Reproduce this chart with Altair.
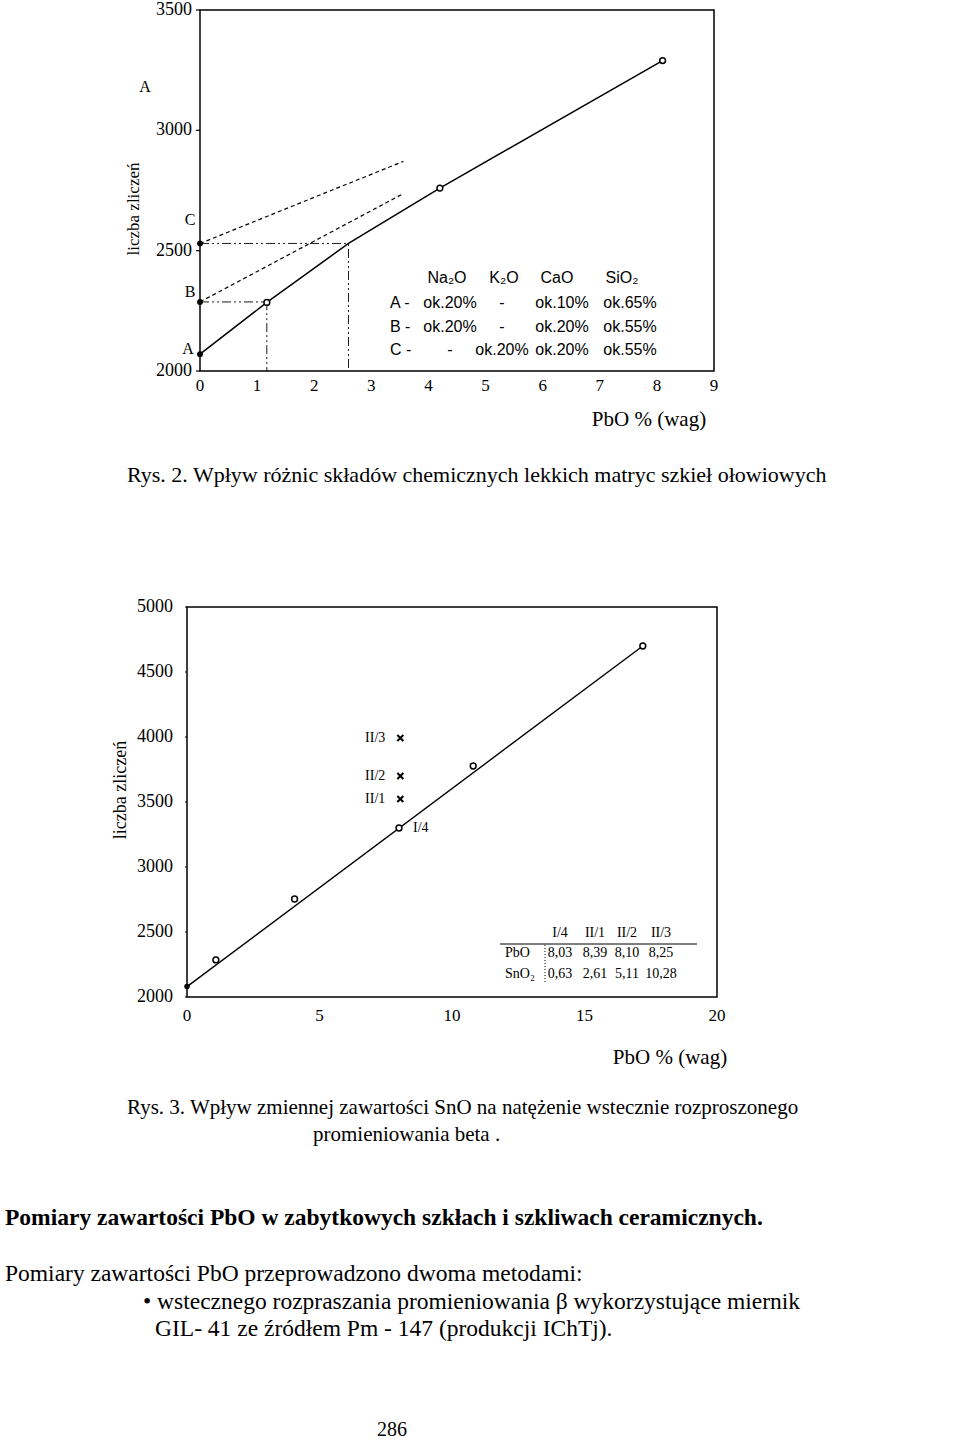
import altair as alt
import pandas as pd

W, H = 960, 1440
SERIF = "Liberation Serif"
SANS = "Liberation Sans"

# ================= Rys. 2 data =================
r2_curve_pbo = [0.0, 1.17, 2.6, 4.2, 8.1]
r2_curve_cnt = [2070, 2285, 2530, 2760, 3290]
r2_open_pbo = [1.17, 4.2, 8.1]
r2_open_cnt = [2285, 2760, 3290]
r2_matrix_names = ["A", "B", "C"]
r2_matrix_cnt = [2070, 2287, 2530]
r2_dash_names = ["B", "C"]
r2_dash_start_cnt = [2287, 2530]
r2_dash_end_pbo = [3.56, 3.56]
r2_dash_end_cnt = [2737, 2871]
r2_proj_pbo = [1.17, 2.6]          # where levels B and C meet the solid curve
r2_xticks = [0, 1, 2, 3, 4, 5, 6, 7, 8, 9]
r2_yticks = [2000, 2500, 3000, 3500]

r2_leg_header = ["Na₂O", "K₂O", "CaO", "SiO₂"]
r2_leg_rows = ["A -", "B -", "C -"]
r2_leg_na2o = ["ok.20%", "ok.20%", "-"]
r2_leg_k2o = ["-", "-", "ok.20%"]
r2_leg_cao = ["ok.10%", "ok.20%", "ok.20%"]
r2_leg_sio2 = ["ok.65%", "ok.55%", "ok.55%"]

# ================= Rys. 3 data =================
r3_open_pbo = [1.09, 4.06, 8.0, 10.8, 17.2]
r3_open_cnt = [2285, 2754, 3300, 3777, 4700]
r3_base_pbo = [0.0]
r3_base_cnt = [2080]
r3_fit_pbo = [0.0, 17.2]
r3_fit_cnt = [2080, 4700]
r3_cross_names = ["II/1", "II/2", "II/3"]
r3_cross_pbo = [8.05, 8.05, 8.05]
r3_cross_cnt = [3523, 3700, 3992]
r3_i4_name = ["I/4"]
r3_i4_pbo = [8.0]
r3_i4_cnt = [3300]
r3_xticks = [0, 5, 10, 15, 20]
r3_yticks = [2000, 2500, 3000, 3500, 4000, 4500, 5000]
r3_tab_samples = ["I/4", "II/1", "II/2", "II/3"]
r3_tab_rows = ["PbO", "SnO₂"]
r3_tab_pbo = [8.03, 8.39, 8.10, 8.25]
r3_tab_sno2 = [0.63, 2.61, 5.11, 10.28]

# ================= texts =================
y_title = "liczba zliczeń"
x_title = "PbO % (wag)"
cap2 = "Rys. 2. Wpływ różnic składów chemicznych lekkich matryc szkieł ołowiowych"
cap3a = "Rys. 3. Wpływ zmiennej zawartości SnO na natężenie wstecznie rozproszonego"
cap3b = "promieniowania beta ."
heading = "Pomiary zawartości PbO w zabytkowych szkłach i szkliwach ceramicznych."
body = [
    "Pomiary zawartości PbO przeprowadzono dwoma metodami:",
    "• wstecznego rozpraszania promieniowania β wykorzystujące miernik",
    "GIL- 41 ze źródłem Pm - 147 (produkcji IChTj).",
]
page_no = "286"

# ================= layout (pixels) =================
P1X, P1Y = [200, 714], [371, 10]
P2X, P2Y = [187, 717], [997, 607]

sx1 = alt.Scale(domain=[0, 9], range=P1X, nice=False, zero=False)
sy1 = alt.Scale(domain=[2000, 3500], range=P1Y, nice=False, zero=False)
sx2 = alt.Scale(domain=[0, 20], range=P2X, nice=False, zero=False)
sy2 = alt.Scale(domain=[2000, 5000], range=P2Y, nice=False, zero=False)

NOAX = dict(axis=None)


def pix_text(df, **mk):
    return alt.Chart(df).mark_text(color="black", baseline="middle", **mk).encode(
        x=alt.X("px:Q", scale=None, axis=None),
        y=alt.Y("py:Q", scale=None, axis=None),
        text="t:N",
    )


def xy(sx, sy, xf="pbo:Q", yf="cnt:Q"):
    return dict(x=alt.X(xf, scale=sx, **NOAX), y=alt.Y(yf, scale=sy, **NOAX))


def tick_layers(sx, sy, xticks, yticks, x0, y0, xsize, ysize, xdy, ydx, xpix, tlen):
    xt = alt.Chart(pd.DataFrame({"pbo": xticks, "cnt": [y0] * len(xticks),
                                 "lab": [str(v) for v in xticks]})).mark_text(
        font=SERIF, fontSize=xsize, color="black", baseline="middle", align="center", dy=xdy
    ).encode(text="lab:N", **xy(sx, sy))
    yt = alt.Chart(pd.DataFrame({"pbo": [x0] * len(yticks), "cnt": yticks,
                                 "lab": [str(v) for v in yticks]})).mark_text(
        font=SERIF, fontSize=ysize, color="black", baseline="middle", align="right", dx=ydx
    ).encode(text="lab:N", **xy(sx, sy))
    ym = alt.Chart(pd.DataFrame({"cnt": yticks})).mark_rule(color="black", strokeWidth=1.2).encode(
        x=alt.value(xpix - tlen), x2=alt.value(xpix), y=alt.Y("cnt:Q", scale=sy, **NOAX))
    return [xt, yt, ym]


# ---------------- Rys. 2 chart ----------------
frame1 = alt.Chart(pd.DataFrame({"a": [0], "b": [9], "c": [2000], "d": [3500]})).mark_rect(
    fill="white", fillOpacity=0, stroke="black", strokeWidth=1.5
).encode(x=alt.X("a:Q", scale=sx1, **NOAX), x2="b:Q",
         y=alt.Y("c:Q", scale=sy1, **NOAX), y2="d:Q")

curve1 = alt.Chart(pd.DataFrame({"pbo": r2_curve_pbo, "cnt": r2_curve_cnt})).mark_line(
    color="black", strokeWidth=1.5).encode(**xy(sx1, sy1))

dash_rows = []
for n, s, ex, ey in zip(r2_dash_names, r2_dash_start_cnt, r2_dash_end_pbo, r2_dash_end_cnt):
    dash_rows.append(dict(name=n, pbo=0.0, cnt=s))
    dash_rows.append(dict(name=n, pbo=ex, cnt=ey))
dash1 = alt.Chart(pd.DataFrame(dash_rows)).mark_line(
    color="black", strokeWidth=1.2, strokeDash=[4, 3]
).encode(detail="name:N", **xy(sx1, sy1))

guide_rows = []
for n, s, px in zip(r2_dash_names, r2_dash_start_cnt, r2_proj_pbo):
    guide_rows += [dict(name=n, o=0, pbo=0.0, cnt=s), dict(name=n, o=1, pbo=px, cnt=s),
                   dict(name=n, o=2, pbo=px, cnt=2000)]
guide1 = alt.Chart(pd.DataFrame(guide_rows)).mark_line(
    color="black", strokeWidth=0.9, strokeDash=[9, 3, 2, 3, 2, 3]
).encode(detail="name:N", order="o:Q", **xy(sx1, sy1))

open1 = alt.Chart(pd.DataFrame({"pbo": r2_open_pbo, "cnt": r2_open_cnt})).mark_point(
    shape="circle", fill="white", stroke="black", strokeWidth=1.5, size=34, opacity=1, filled=True
).encode(**xy(sx1, sy1))

mat1 = alt.Chart(pd.DataFrame({"name": r2_matrix_names, "pbo": [0.0] * 3, "cnt": r2_matrix_cnt})).mark_point(
    shape="circle", filled=True, color="black", size=34, opacity=1
).encode(**xy(sx1, sy1))

chart1 = alt.layer(frame1, guide1, dash1, curve1, open1, mat1,
                   *tick_layers(sx1, sy1, r2_xticks, r2_yticks, 0, 2000, 17, 18, 15, -8, P1X[0], 4))

# ---------------- Rys. 3 chart ----------------
frame2 = alt.Chart(pd.DataFrame({"a": [0], "b": [20], "c": [2000], "d": [5000]})).mark_rect(
    fill="white", fillOpacity=0, stroke="black", strokeWidth=1.5
).encode(x=alt.X("a:Q", scale=sx2, **NOAX), x2="b:Q",
         y=alt.Y("c:Q", scale=sy2, **NOAX), y2="d:Q")
fit2 = alt.Chart(pd.DataFrame({"pbo": r3_fit_pbo, "cnt": r3_fit_cnt})).mark_line(
    color="black", strokeWidth=1.4).encode(**xy(sx2, sy2))
open2 = alt.Chart(pd.DataFrame({"pbo": r3_open_pbo, "cnt": r3_open_cnt})).mark_point(
    shape="circle", fill="white", stroke="black", strokeWidth=1.5, size=34, opacity=1, filled=True
).encode(**xy(sx2, sy2))
base2 = alt.Chart(pd.DataFrame({"pbo": r3_base_pbo, "cnt": r3_base_cnt})).mark_point(
    shape="circle", filled=True, color="black", size=30, opacity=1).encode(**xy(sx2, sy2))
cross_df = pd.DataFrame({"name": r3_cross_names, "pbo": r3_cross_pbo, "cnt": r3_cross_cnt})
cross2 = alt.Chart(cross_df).mark_point(
    shape="M-1,-1L1,1M-1,1L1,-1", filled=False, stroke="black", strokeWidth=2, size=36, opacity=1
).encode(**xy(sx2, sy2))
cross_lab = alt.Chart(cross_df).mark_text(
    align="right", baseline="middle", dx=-15, font=SERIF, fontSize=14, color="black"
).encode(text="name:N", **xy(sx2, sy2))
i4_lab = alt.Chart(pd.DataFrame({"name": r3_i4_name, "pbo": r3_i4_pbo, "cnt": r3_i4_cnt})).mark_text(
    align="left", baseline="middle", dx=14, font=SERIF, fontSize=14, color="black"
).encode(text="name:N", **xy(sx2, sy2))

chart2 = alt.layer(frame2, fit2, open2, base2, cross2, cross_lab, i4_lab,
                   *tick_layers(sx2, sy2, r3_xticks, r3_yticks, 0, 2000, 17, 18, 19, -14, P2X[0], 2))

# ---------------- pixel-placed texts ----------------
cap2_t = pix_text(pd.DataFrame({"t": [cap2], "px": [127], "py": [475]}),
                  font=SERIF, fontSize=22, align="left")
cap3_t = pix_text(pd.DataFrame({"t": [cap3a, cap3b], "px": [127, 313], "py": [1108, 1135]}),
                  font=SERIF, fontSize=21, align="left")
head = pix_text(pd.DataFrame({"t": [heading], "px": [5], "py": [1218]}),
                font=SERIF, fontSize=23.5, fontWeight="bold", align="left")
body_t = pix_text(pd.DataFrame({"t": body, "px": [5, 143, 155], "py": [1274, 1302, 1329]}),
                  font=SERIF, fontSize=23.5, align="left")
page_t = pix_text(pd.DataFrame({"t": [page_no], "px": [392], "py": [1430]}),
                  font=SERIF, fontSize=20, align="center")
xt = pix_text(pd.DataFrame({"t": [x_title, x_title], "px": [649, 670], "py": [420, 1058]}),
              font=SERIF, fontSize=21, align="center")
yt1 = pix_text(pd.DataFrame({"t": [y_title], "px": [134], "py": [209]}),
               font=SERIF, fontSize=17, align="center", angle=270)
yt2 = pix_text(pd.DataFrame({"t": [y_title], "px": [121], "py": [790]}),
               font=SERIF, fontSize=18, align="center", angle=270)
abc_lab = pix_text(pd.DataFrame({"t": ["A"] + r2_matrix_names,
                                 "px": [145, 188, 190, 190], "py": [87, 349, 292, 220]}),
                   font=SERIF, fontSize=16, align="center")

# legend of Rys. 2
LEG_HEAD_X = [447, 504, 557, 622]
LEG_COL_X = [450, 502, 562, 630]
LEG_ROW_Y = [303, 327, 350]
leg_head = pix_text(pd.DataFrame({"t": r2_leg_header, "px": LEG_HEAD_X, "py": [278] * 4}),
                    font=SANS, fontSize=16, align="center")
leg_rowlab = pix_text(pd.DataFrame({"t": r2_leg_rows, "px": [390] * 3, "py": LEG_ROW_Y}),
                      font=SANS, fontSize=16, align="left")
cells = []
for ci, col in enumerate([r2_leg_na2o, r2_leg_k2o, r2_leg_cao, r2_leg_sio2]):
    for ri, v in enumerate(col):
        cells.append(dict(t=v, px=LEG_COL_X[ci], py=LEG_ROW_Y[ri]))
leg_cells = pix_text(pd.DataFrame(cells), font=SANS, fontSize=16, align="center")

# table of Rys. 3
TAB_COL_X = [560, 595, 627, 661]
TAB_ROW_Y = [933, 953, 974]
tab_cells = [dict(t=s, px=TAB_COL_X[i], py=TAB_ROW_Y[0]) for i, s in enumerate(r3_tab_samples)]
for i, v in enumerate(r3_tab_pbo):
    tab_cells.append(dict(t=f"{v:.2f}".replace(".", ","), px=TAB_COL_X[i], py=TAB_ROW_Y[1]))
for i, v in enumerate(r3_tab_sno2):
    tab_cells.append(dict(t=f"{v:.2f}".replace(".", ","), px=TAB_COL_X[i], py=TAB_ROW_Y[2]))
tab_t = pix_text(pd.DataFrame(tab_cells), font=SERIF, fontSize=14, align="center")
tab_rl = pix_text(pd.DataFrame({"t": r3_tab_rows, "px": [505, 505], "py": TAB_ROW_Y[1:]}),
                  font=SERIF, fontSize=14, align="left")
one = pd.DataFrame({"k": [0]})
tab_hline = alt.Chart(one).mark_rule(color="black", strokeWidth=1).encode(
    x=alt.value(500), x2=alt.value(697), y=alt.value(944))
tab_vline = alt.Chart(one).mark_rule(color="black", strokeWidth=1, strokeDash=[1, 2]).encode(
    x=alt.value(545), y=alt.value(945), y2=alt.value(982))

chart = alt.layer(
    chart1, chart2,
    cap2_t, cap3_t, head, body_t, page_t, xt, yt1, yt2, abc_lab,
    leg_head, leg_rowlab, leg_cells, tab_t, tab_rl, tab_hline, tab_vline,
).resolve_scale(x="independent", y="independent").properties(
    width=W, height=H, padding=0, autosize=alt.AutoSizeParams(type="none"), background="white"
).configure_view(stroke=None)

chart.save("out.html", embed_options={"renderer": "svg", "actions": False})
